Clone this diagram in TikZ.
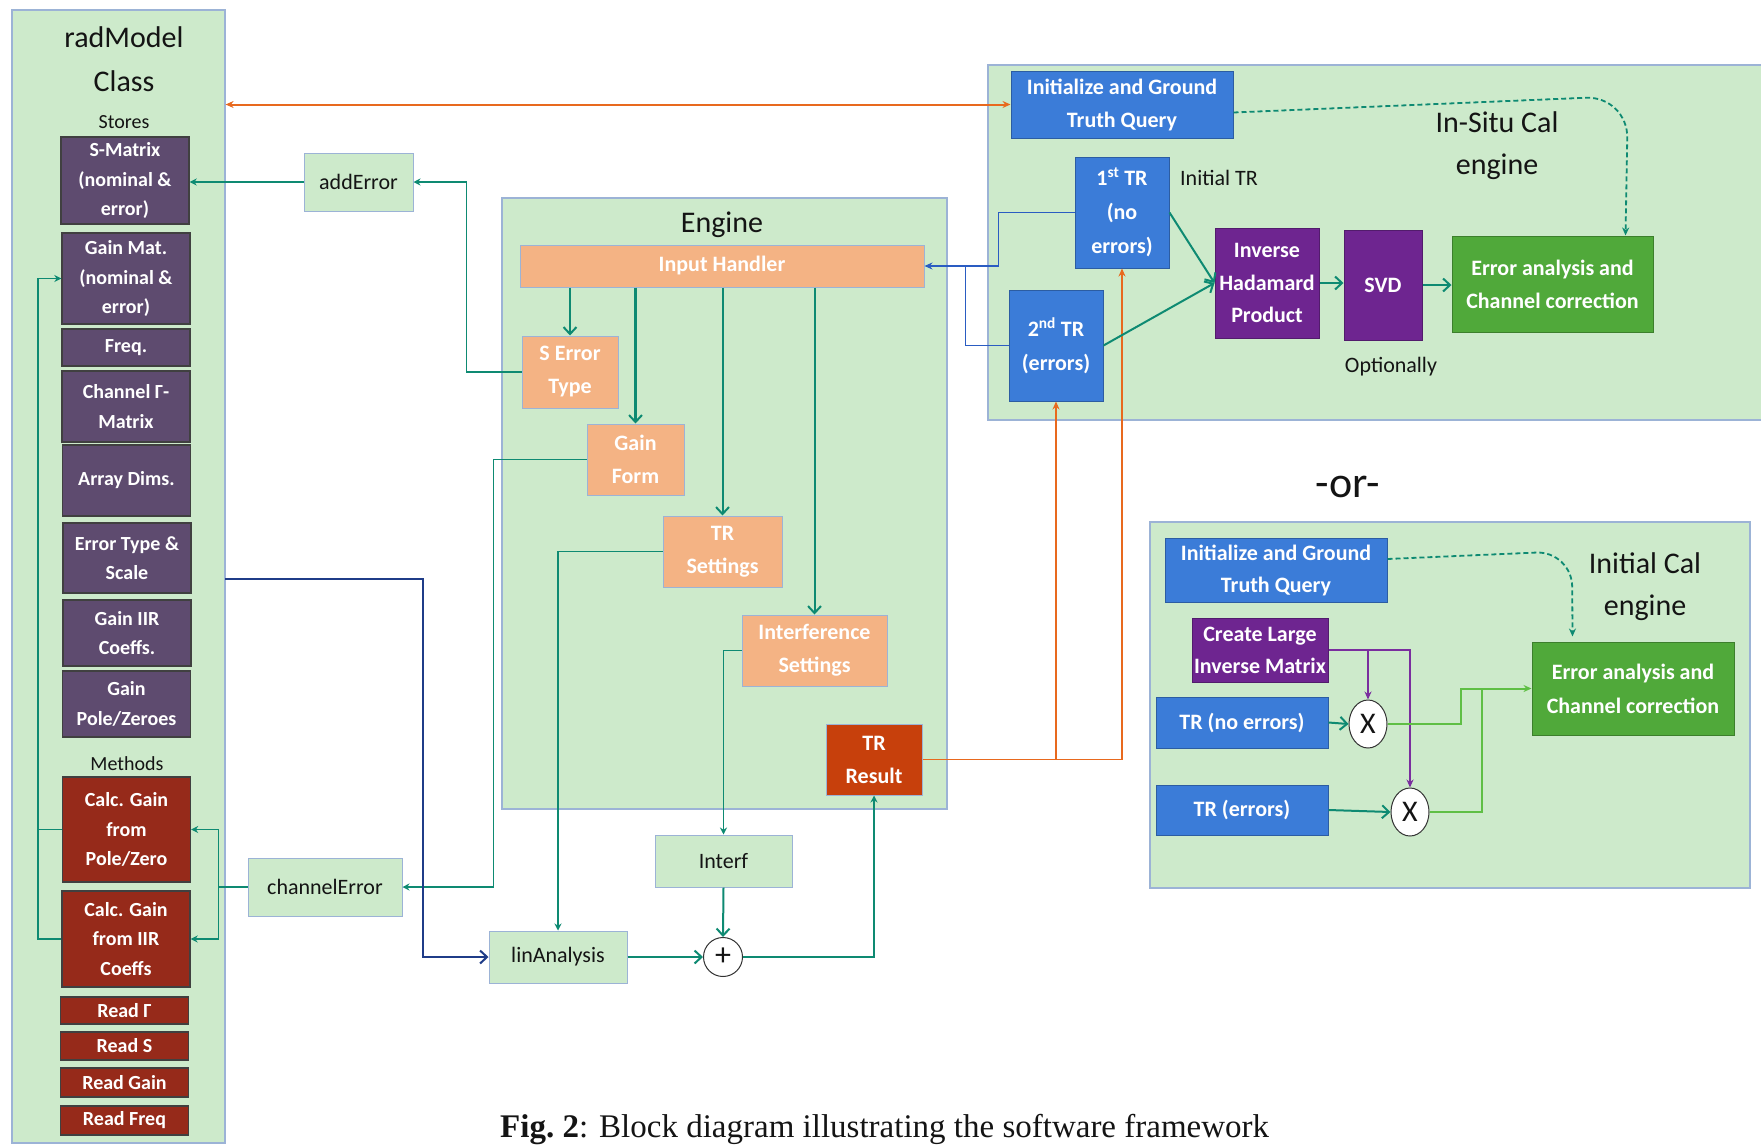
\documentclass[tikz,border=0pt]{standalone}
\usepackage{fontspec}
\setmainfont{Carlito}
\newfontfamily\capfont{Liberation Serif}
\usetikzlibrary{arrows.meta,shapes.geometric,calc}
\definecolor{panelfill}{HTML}{CDEACB}
\definecolor{panelline}{HTML}{9CB3D6}
\definecolor{storefill}{HTML}{5E4B6F}
\definecolor{methfill}{HTML}{962A1A}
\definecolor{peachfill}{HTML}{F4B384}
\definecolor{trresfill}{HTML}{C7400C}
\definecolor{bluefill}{HTML}{3B7CD8}
\definecolor{purpfill}{HTML}{6E2590}
\definecolor{greenfill}{HTML}{50A93A}
\definecolor{tealc}{HTML}{0E8A72}
\definecolor{orangec}{HTML}{E8691E}
\definecolor{dbluec}{HTML}{1F3C88}
\definecolor{mbluec}{HTML}{2A5CC2}
\definecolor{purpc}{HTML}{7A2E9E}
\definecolor{lgreenc}{HTML}{5FBF45}
\definecolor{textblack}{HTML}{141414}
\begin{document}
\begin{tikzpicture}[x=1pt,y=-1pt,
  panel/.style={draw=panelline, line width=1.2pt, fill=panelfill, inner sep=0pt},
  box/.style={inner sep=0pt, align=center, text=white, line width=1pt,
    font=\bfseries\fontsize{22}{33}\selectfont},
  store/.style={box, fill=storefill, draw=black!75, line width=1.4pt,
    font=\bfseries\fontsize{20}{29.5}\selectfont, minimum width=128pt},
  meth/.style={store, fill=methfill},
  peach/.style={box, fill=peachfill, draw=panelline},
  trbox/.style={box, fill=trresfill, draw=panelline},
  bbox/.style={box, fill=bluefill, draw=bluefill!75!black},
  pbox/.style={box, fill=purpfill, draw=purpfill!75!black},
  gbox/.style={box, fill=greenfill, draw=greenfill!75!black},
  lbox/.style={inner sep=0pt, align=center, fill=panelfill, draw=panelline, line width=1pt,
    font=\fontsize{22}{33}\selectfont, text=textblack},
  lbl/.style={inner sep=0pt, align=center, text=textblack, anchor=base},
  opnode/.style={draw=black!80, fill=white, line width=1pt, inner sep=0pt, text=textblack},
  tline/.style={draw=tealc, line width=1.8pt},
  tarr/.style={tline, -{Stealth[length=7pt,width=7pt]}},
  tbarb/.style={tline, line width=2pt, -{Straight Barb[length=7pt,width=13pt,line width=2pt]}},
  oarr/.style={draw=orangec, line width=1.8pt, -{Stealth[length=8pt,width=7pt]}},
  tdash/.style={draw=tealc, line width=1.8pt, dash pattern=on 5pt off 3pt, rounded corners=42pt,
    -{Stealth[length=8pt,width=7pt]}}
]
\clip (0,0) rectangle (1761,1146);
\fill[white] (0,0) rectangle (1761,1146);

% ---------- panels
\node[panel, minimum width=213pt, minimum height=1133pt] (rad) at (118.5,576.5) {};
\node[panel, minimum width=445pt, minimum height=611pt] (eng) at (724.5,503.5) {};
\node[panel, minimum width=777pt, minimum height=355pt] (insitu) at (1376.5,242.5) {};
\node[panel, minimum width=600pt, minimum height=366pt] (initcal) at (1450,705) {};

% ---------- titles
\node[lbl, font=\fontsize{30}{36}\selectfont] (radt1) at (124,47) {radModel};
\node[lbl, font=\fontsize{30}{36}\selectfont] (radt2) at (124,91) {Class};
\node[lbl, font=\fontsize{20}{24}\selectfont] (stores) at (124,128) {Stores};
\node[lbl, font=\fontsize{20}{24}\selectfont] (methods) at (127,770) {Methods};
\node[lbl, font=\fontsize{30}{36}\selectfont] (engt) at (722,232) {Engine};
\node[lbl, font=\fontsize{30}{36}\selectfont] (ist1) at (1497,132) {In-Situ Cal};
\node[lbl, font=\fontsize{30}{36}\selectfont] (ist2) at (1497,174) {engine};
\node[lbl, font=\fontsize{22}{26}\selectfont] (inittr) at (1219,185) {Initial TR};
\node[lbl, font=\fontsize{22}{26}\selectfont] (opt) at (1391,372) {Optionally};
\node[lbl, font=\fontsize{44}{50}\selectfont] (ortxt) at (1348,497) {-or-};
\node[lbl, font=\fontsize{30}{36}\selectfont] (ict1) at (1645,573) {Initial Cal};
\node[lbl, font=\fontsize{30}{36}\selectfont] (ict2) at (1645,615) {engine};

% ---------- radModel stores
\node[store, minimum height=87pt] (smat) at (125,180.5) {S-Matrix\\(nominal \&\\error)};
\node[store, minimum height=91pt] (gainmat) at (126,278.5) {Gain Mat.\\(nominal \&\\error)};
\node[store, minimum height=37pt] (freq) at (126,347.5) {Freq.};
\node[store, minimum height=71pt] (chgam) at (126,406.5) {Channel Γ-\\Matrix};
\node[store, minimum height=71pt] (arrdim) at (126.5,480.5) {Array Dims.};
\node[store, minimum height=70pt] (errtype) at (127,558) {Error Type \&\\Scale};
\node[store, minimum height=66pt] (gainiir) at (127,633) {Gain IIR\\Coeffs.};
\node[store, minimum height=66pt] (gainpz) at (126.5,704) {Gain\\Pole/Zeroes};
% methods
\node[meth, minimum height=105pt] (calcpz) at (126.5,829.5) {Calc. Gain\\from\\Pole/Zero};
\node[meth, minimum height=96pt] (calciir) at (126,939) {Calc. Gain\\from IIR\\Coeffs};
\node[meth, minimum height=27pt] (readg) at (124.5,1010.5) {Read Γ};
\node[meth, minimum height=28pt] (reads) at (124.5,1046) {Read S};
\node[meth, minimum height=29pt] (readgain) at (124.5,1082.5) {Read Gain};
\node[meth, minimum height=29pt] (readfreq) at (124.5,1120.5) {Read Freq};

% ---------- helper boxes
\node[lbox, minimum width=109pt, minimum height=58pt] (adderr) at (358.5,182) {addError};
\node[lbox, minimum width=154pt, minimum height=58pt] (cherr) at (325,887) {channelError};
\node[lbox, minimum width=137pt, minimum height=52pt] (interf) at (723.5,861) {Interf};
\node[lbox, minimum width=138pt, minimum height=52pt] (linan) at (558,957) {linAnalysis};
\node[opnode, circle, minimum size=39pt, font=\fontsize{32}{32}\selectfont] (plus) at (723,957) {+};

% ---------- engine
\node[peach, minimum width=404pt, minimum height=42pt] (ih) at (722,266) {Input Handler};
\node[peach, minimum width=96pt, minimum height=72pt] (serr) at (570,372) {S Error\\Type};
\node[peach, minimum width=97pt, minimum height=71pt] (gainform) at (635.5,459.5) {Gain\\Form};
\node[peach, minimum width=119pt, minimum height=71pt] (trset) at (722.5,551.5) {TR\\Settings};
\node[peach, minimum width=145pt, minimum height=71pt] (intset) at (814.5,650.5) {Interference\\Settings};
\node[trbox, minimum width=96pt, minimum height=71pt] (trres) at (874,759.5) {TR\\Result};

% ---------- in-situ cal
\node[bbox, minimum width=222pt, minimum height=67pt] (init1) at (1122,104.5) {Initialize and Ground\\Truth Query};
\node[bbox, minimum width=94pt, minimum height=111pt, font=\bfseries\fontsize{22}{34}\selectfont] (tr1) at (1122,212.5) {1\textsuperscript{st} TR\\(no\\errors)};
\node[bbox, minimum width=94pt, minimum height=111pt, font=\bfseries\fontsize{22}{34}\selectfont] (tr2) at (1056,345.5) {2\textsuperscript{nd} TR\\(errors)};
\node[pbox, minimum width=104pt, minimum height=110pt, font=\bfseries\fontsize{22}{32.5}\selectfont] (ih2) at (1267,283) {Inverse\\Hadamard\\Product};
\node[pbox, minimum width=78pt, minimum height=110pt] (svd) at (1383,285) {SVD};
\node[gbox, minimum width=201pt, minimum height=96pt] (err1) at (1552.5,284) {Error analysis and\\Channel correction};

% ---------- initial cal
\node[bbox, minimum width=222pt, minimum height=64pt, font=\bfseries\fontsize{22}{32}\selectfont] (init2) at (1276,570) {Initialize and Ground\\Truth Query};
\node[pbox, minimum width=136pt, minimum height=64pt, font=\bfseries\fontsize{22}{32}\selectfont] (clim) at (1260,650) {Create Large\\Inverse Matrix};
\node[bbox, minimum width=172pt, minimum height=51pt] (trne) at (1242,722.5) {TR (no errors)};
\node[bbox, minimum width=172pt, minimum height=50pt] (tre) at (1242,810) {TR (errors)};
\node[gbox, minimum width=202pt, minimum height=93pt, font=\bfseries\fontsize{22}{34}\selectfont] (err2) at (1633,688.5) {Error analysis and\\Channel correction};
\node[opnode, ellipse, minimum width=38pt, minimum height=48pt, font=\fontsize{30}{30}\selectfont] (x1) at (1368,724) {X};
\node[opnode, ellipse, minimum width=38pt, minimum height=48pt, font=\fontsize{30}{30}\selectfont] (x2) at (1410,812) {X};

% ---------- connectors: radModel side
\draw[tarr] (calciir.west) -- ++(-23,0) |- (gainmat.west);
\draw[tline] (calcpz.west) -- ++(-23,0);
\draw[tline] (cherr.west) -- ++(-29,0) coordinate (cj);
\draw[tarr] (cj) |- (calcpz.east);
\draw[tarr] (cj) |- (calciir.east);
\draw[tarr] (adderr.west) -- (adderr.west -| smat.east);
\draw[tarr] (serr.west) -- ++(-55,0) |- (adderr.east);
\draw[tarr] (gainform.west) -- ++(-93,0) |- (cherr.east);
\draw[tarr] (trset.west) -| (linan.north);
\coordinate (radb) at (225,579);
\draw[dbluec, line width=1.8pt, -{Straight Barb[length=7pt,width=13pt,line width=2pt]}] (radb) -- ++(198,0) |- (linan.west);
\draw[orangec, line width=2pt, {Stealth[length=8pt,width=7pt]}-{Stealth[length=8pt,width=7pt]}] (rad.east |- init1.west) -- (init1.west);

% ---------- engine connectors
\draw[tbarb] (ih.south -| serr.north) -- (serr.north);
\draw[tbarb, line width=2.4pt] (ih.south -| gainform.north) -- (gainform.north);
\draw[tbarb] (ih.south -| trset.north) -- (trset.north);
\draw[tbarb] (ih.south -| intset.north) -- (intset.north);
\draw[tarr] (intset.west) -| (interf.north);
\draw[tbarb] (interf.south) -- (plus.north);
\draw[tbarb] (linan.east) -- (plus.west);
\draw[tarr] (plus.east) -| (trres.south);
\draw[oarr] (trres.east) -| (tr1.south);
\draw[oarr] (trres.east -| tr2.south) -- (tr2.south);

% ---------- in-situ connectors
\draw[mbluec, line width=1.8pt, -{Stealth[length=8pt,width=7pt]}] (tr1.west) -- ++(-76,0) |- (ih.east);
\path (tr2.west) ++(-43,0) coordinate (bj);
\draw[mbluec, line width=1.8pt] (tr2.west) -- (bj) -- (bj |- ih.east);
\draw[tbarb] (tr1.east) -- (ih2.west);
\draw[tbarb] (tr2.east) -- (ih2.west);
\draw[tbarb, line width=2.6pt] (ih2.east) -- (ih2.east -| svd.west);
\draw[tbarb, line width=2.6pt] (svd.east) -- (svd.east -| err1.west);
\draw[tdash] ([yshift=-8pt]init1.east) -- (1628,96) -- ([xshift=-28pt]err1.north east);

% ---------- initial cal connectors
\draw[tdash, rounded corners=36pt] ([yshift=11pt]init2.east) -- (1572,551) -- ([xshift=41pt,yshift=5pt]err2.north west);
\draw[purpc, line width=1.8pt, -{Stealth[length=8pt,width=7pt]}] (clim.east) -| (x2.north);
\draw[purpc, line width=1.8pt, -{Stealth[length=8pt,width=7pt]}] (clim.east -| x1.north) -- (x1.north);
\draw[tbarb] (trne.east) -- (x1.west);
\draw[tbarb] (tre.east) -- (x2.west);
\draw[lgreenc, line width=2pt, -{Stealth[length=8pt,width=7pt]}] (x1.east) -- ++(73,0) |- (err2.west);
\draw[lgreenc, line width=2pt] (x2.east) -- ++(52,0) coordinate (gj) -- (gj |- err2.west);

% ---------- caption
\node[anchor=base west, inner sep=0pt, text=textblack, font=\capfont\fontsize{33}{40}\selectfont] (cap) at (500,1137) {\textbf{Fig.\ 2}: Block diagram illustrating the software framework};
\end{tikzpicture}
\end{document}
